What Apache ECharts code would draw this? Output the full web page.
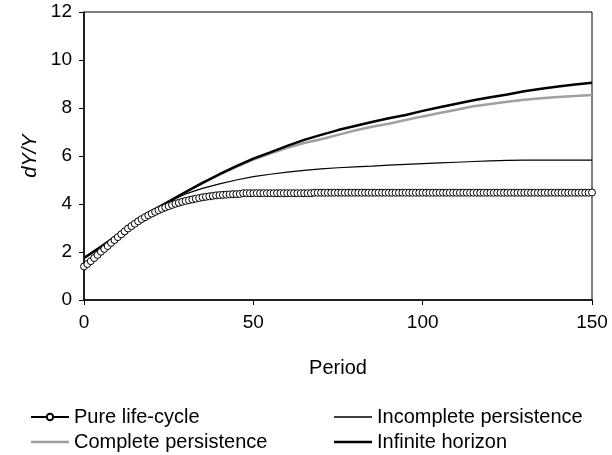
<!DOCTYPE html>
<html>
<head>
<meta charset="utf-8">
<script src="https://cdn.jsdelivr.net/npm/echarts@6/dist/echarts.min.js"></script>
<style>
  html, body { margin: 0; padding: 0; background: #fff; }
  #chart { width: 612px; height: 455px; }
</style>
</head>
<body>
<div id="chart"></div>
<script>
// Periodos (eje x)
const lifeCyclePeriods = Array.from({ length: 151 }, (_, i) => i);
const periods = [0, 5, 10, 15, 20, 25, 30, 35, 40, 45, 50, 55, 60, 65, 70, 75,
    80, 85, 90, 95, 100, 105, 110, 115, 120, 125, 130, 135, 140, 145, 150];

// Valores
const pureLifeCycle = [
    1.40, 1.50, 1.62, 1.75, 1.88, 2.01, 2.13, 2.25, 2.38, 2.50,
    2.62, 2.74, 2.86, 2.98, 3.08, 3.18, 3.28, 3.37, 3.45, 3.53,
    3.60, 3.67, 3.74, 3.80, 3.86, 3.91, 3.96, 4.01, 4.05, 4.09,
    4.13, 4.16, 4.19, 4.22, 4.25, 4.28, 4.30, 4.32, 4.34, 4.36,
    4.37, 4.38, 4.39, 4.40, 4.41, 4.41, 4.42, 4.45, 4.45, 4.45,
    4.45, 4.45, 4.45, 4.45, 4.45, 4.45, 4.45, 4.45, 4.45, 4.45,
    4.45, 4.45, 4.45, 4.45, 4.45, 4.45, 4.45, 4.45, 4.47, 4.47,
    4.47, 4.47, 4.47, 4.47, 4.47, 4.47, 4.47, 4.47, 4.47, 4.47,
    4.47, 4.47, 4.47, 4.47, 4.47, 4.47, 4.47, 4.47, 4.47, 4.47,
    4.47, 4.47, 4.47, 4.47, 4.47, 4.47, 4.47, 4.47, 4.47, 4.47,
    4.47, 4.47, 4.47, 4.47, 4.47, 4.47, 4.47, 4.47, 4.47, 4.47,
    4.47, 4.47, 4.47, 4.47, 4.47, 4.47, 4.47, 4.47, 4.47, 4.47,
    4.47, 4.47, 4.47, 4.47, 4.47, 4.47, 4.47, 4.47, 4.47, 4.47,
    4.47, 4.47, 4.47, 4.47, 4.47, 4.47, 4.47, 4.47, 4.47, 4.47,
    4.47, 4.47, 4.47, 4.47, 4.47, 4.47, 4.47, 4.47, 4.47, 4.47,
    4.48
];
const incompletePersistence = [1.75, 2.22, 2.72, 3.24, 3.70, 4.08, 4.42, 4.65, 4.84, 5.00, 5.14,
    5.24, 5.33, 5.40, 5.46, 5.51, 5.55, 5.58, 5.62, 5.65, 5.68, 5.71, 5.74, 5.77, 5.80, 5.82,
    5.83, 5.83, 5.83, 5.83, 5.83];
const completePersistence = [1.75, 2.22, 2.72, 3.24, 3.70, 4.10, 4.50, 4.88, 5.22, 5.55, 5.85,
    6.10, 6.34, 6.54, 6.70, 6.88, 7.06, 7.22, 7.34, 7.50, 7.65, 7.79, 7.93, 8.07, 8.17, 8.26,
    8.34, 8.41, 8.46, 8.50, 8.54];
const infiniteHorizon = [1.75, 2.22, 2.72, 3.24, 3.70, 4.10, 4.50, 4.88, 5.24, 5.58, 5.89,
    6.15, 6.42, 6.67, 6.88, 7.08, 7.25, 7.42, 7.57, 7.71, 7.88, 8.03, 8.18, 8.32, 8.45, 8.56,
    8.70, 8.80, 8.90, 8.98, 9.05];
const yTicks = [0, 2, 4, 6, 8, 10, 12];

function pairs(xs, ys) {
    return xs.map((x, i) => [x, ys[i]]);
}

const font = 'Liberation Sans, Arial, sans-serif';
const chart = echarts.init(document.getElementById('chart'), null, { renderer: 'canvas' });

const legendText = { fontSize: 20, lineHeight: 22, color: '#000', fontFamily: font };
// iconos de linea sin simbolo para la leyenda
const thinIcon = 'path://M0,0 H38 V1.3 H0 Z';
const thickIcon = 'path://M0,0 H38 V2.5 H0 Z';

chart.setOption({
    animation: false,
    backgroundColor: '#fff',
    textStyle: { fontFamily: font, color: '#000' },
    grid: {
        left: 84, right: 20, top: 12, bottom: 155,
        show: true, borderColor: '#000', borderWidth: 1
    },
    xAxis: {
        type: 'value', min: 0, max: 150, interval: 50,
        name: 'Period', nameLocation: 'middle', nameGap: 58,
        nameTextStyle: { fontSize: 20, color: '#000', fontFamily: font },
        axisLine: { lineStyle: { color: '#000', width: 1.5 } },
        axisTick: { inside: false, length: 5, lineStyle: { color: '#000' } },
        axisLabel: { fontSize: 19, color: '#000', margin: 13, fontFamily: font },
        splitLine: { show: false }
    },
    yAxis: {
        type: 'value', min: yTicks[0], max: yTicks[yTicks.length - 1], interval: 2,
        name: 'dY/Y', nameLocation: 'middle', nameGap: 44, nameRotate: 90,
        nameTextStyle: { fontSize: 20, fontStyle: 'italic', color: '#000', fontFamily: font },
        axisLine: { show: true, lineStyle: { color: '#000', width: 1.5 } },
        axisTick: { show: true, length: 5, lineStyle: { color: '#000' } },
        axisLabel: { fontSize: 19, color: '#000', margin: 12, fontFamily: font },
        splitLine: { show: false }
    },
    legend: [
        {
            orient: 'vertical', left: 30, top: 406, itemGap: 3, padding: 0,
            itemWidth: 38, itemHeight: 8,
            textStyle: legendText,
            data: [
                { name: 'Pure life-cycle' },
                { name: 'Complete persistence', icon: thickIcon }
            ]
        },
        {
            orient: 'vertical', left: 334, top: 406, itemGap: 3, padding: 0,
            itemWidth: 38, itemHeight: 8,
            textStyle: legendText,
            data: [
                { name: 'Incomplete persistence', icon: thinIcon },
                { name: 'Infinite horizon', icon: thickIcon }
            ]
        }
    ],
    series: [
        {
            name: 'Pure life-cycle', type: 'line',
            data: pairs(lifeCyclePeriods, pureLifeCycle),
            symbol: 'circle', symbolSize: 7, showAllSymbol: true,
            itemStyle: { color: '#fff', borderColor: '#000', borderWidth: 1 },
            lineStyle: { color: '#000', width: 1 }
        },
        {
            name: 'Incomplete persistence', type: 'line',
            data: pairs(periods, incompletePersistence),
            symbol: 'none',
            itemStyle: { color: '#000' },
            lineStyle: { color: '#000', width: 1.2 }
        },
        {
            name: 'Complete persistence', type: 'line',
            data: pairs(periods, completePersistence),
            symbol: 'none',
            itemStyle: { color: '#a0a0a0' },
            lineStyle: { color: '#a0a0a0', width: 2.5 }
        },
        {
            name: 'Infinite horizon', type: 'line',
            data: pairs(periods, infiniteHorizon),
            symbol: 'none',
            itemStyle: { color: '#000' },
            lineStyle: { color: '#000', width: 2.5 }
        }
    ]
});
</script>
</body>
</html>
